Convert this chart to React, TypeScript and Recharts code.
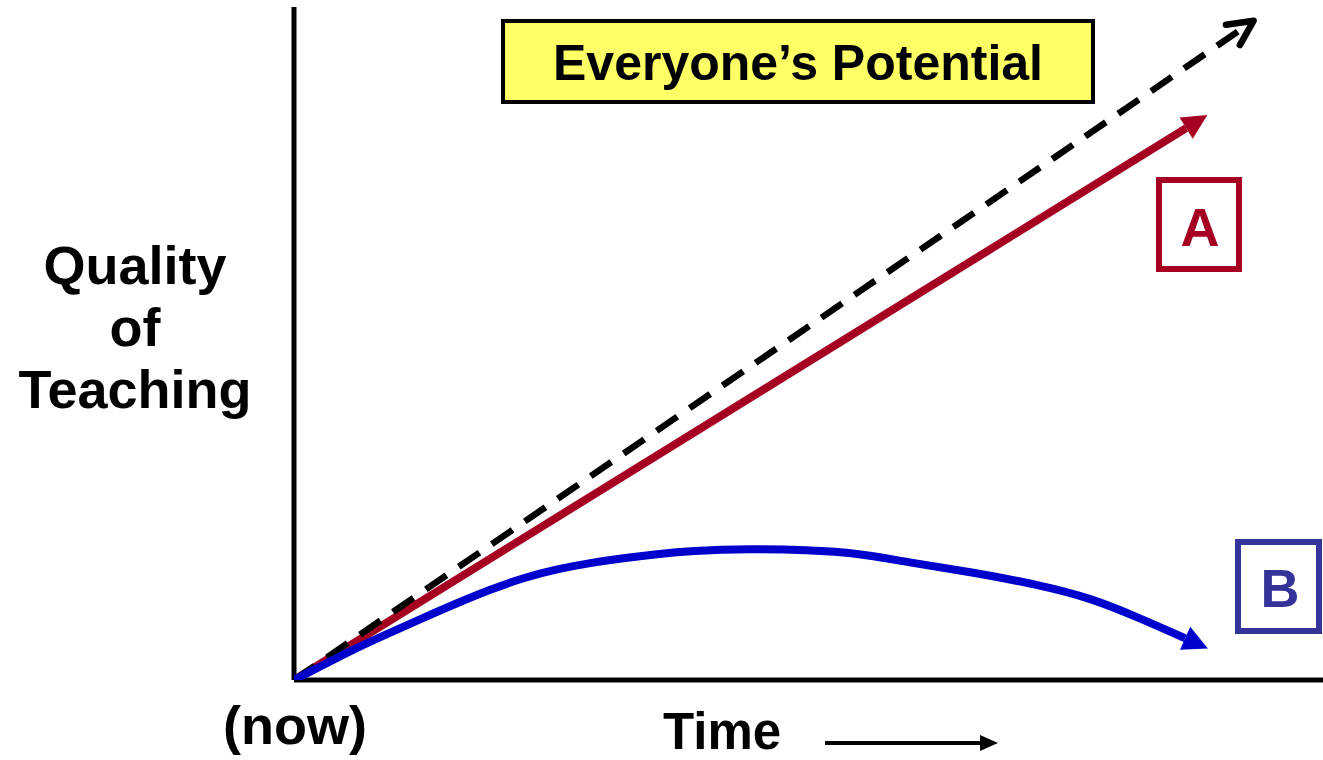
import * as React from "react";
import { LineChart, Line, XAxis, YAxis, ReferenceLine } from "recharts";

// x: time (0..100), y: quality of teaching (0..100)
const potentialX = [0, 93.1];
const potentialY = [0, 97.8];

const pathAX = [0, 86.7];
const pathAY = [0, 82.0];

const pathBX = [0, 2.8, 6.1, 9.3, 12.5, 15.8, 19.0, 22.3, 25.6, 28.8, 32.0, 35.3, 38.5, 44.3, 49.9, 54.7, 59.6, 66.0, 72.5, 77.4, 82.2, 86.6];
const pathBY = [0, 2.2, 4.8, 7.0, 9.2, 11.4, 13.4, 15.2, 16.5, 17.4, 18.1, 18.7, 19.2, 19.5, 19.3, 18.9, 17.5, 16.0, 14.1, 12.2, 9.2, 6.2];

const TITLE = "Everyone’s Potential";
const Y_LABEL = ["Quality", "of", "Teaching"];
const X_LABEL = "Time";
const ORIGIN_LABEL = "(now)";

const RED = "#A50021";
const BLUE = "#0000CC";
const B_BOX = "#333399";
const FONT = "'Liberation Sans', Arial, sans-serif";

const W = 1323;
const H = 760;

const toRows = (xs: number[], ys: number[]) => xs.map((x, i) => ({ x, y: ys[i] }));

const potentialData = toRows(potentialX, potentialY);
const aData = toRows(pathAX, pathAY);
const bData = toRows(pathBX, pathBY);

/** arrow head on the last point of a series, pointing along the last segment */
function arrowDot(color: string, kind: "open" | "solid", lastIndex: number) {
  return (props: any) => {
    const { cx, cy, index, points } = props;
    if (index !== lastIndex || !points || !points[index - 1]) {
      return <g key={`d-${index}`} />;
    }
    const prev = points[index - 1];
    const dx = cx - prev.x;
    const dy = cy - prev.y;
    const len = Math.hypot(dx, dy) || 1;
    const ux = dx / len;
    const uy = dy / len;

    if (kind === "open") {
      const tx = cx + 2 * ux;
      const ty = cy + 2 * uy;
      const rot = (a: number) => {
        const r = (a * Math.PI) / 180;
        const bx = -ux, by = -uy;
        return [bx * Math.cos(r) - by * Math.sin(r), bx * Math.sin(r) + by * Math.cos(r)];
      };
      const [ax, ay] = rot(26);
      const [cx2, cy2] = rot(-26);
      const L = 28;
      return (
        <path
          key={`d-${index}`}
          d={`M${tx + L * ax},${ty + L * ay} L${tx},${ty} L${tx + L * cx2},${ty + L * cy2}`}
          fill="none"
          stroke={color}
          strokeWidth={6.5}
          strokeLinecap="round"
          strokeLinejoin="round"
        />
      );
    }

    const L = 25;
    const hw = 12.5;
    const nx = -uy;
    const ny = ux;
    const tip = [cx + L * ux, cy + L * uy];
    return (
      <path
        key={`d-${index}`}
        d={`M${cx + hw * nx},${cy + hw * ny} L${tip[0]},${tip[1]} L${cx - hw * nx},${cy - hw * ny} Z`}
        fill={color}
        stroke="none"
      />
    );
  };
}

export default function App() {
  return (
    <div style={{ position: "absolute", left: 0, top: 0, width: W, height: H, background: "#fff" }}>
      <LineChart width={W} height={H} margin={{ top: 7, right: 0, bottom: 80, left: 294 }}>
        <XAxis type="number" dataKey="x" domain={[0, 100]} allowDataOverflow hide height={0} />
        <YAxis type="number" dataKey="y" domain={[0, 100]} allowDataOverflow hide width={0} />
        <ReferenceLine x={0} stroke="#000" strokeWidth={5} />
        <ReferenceLine y={0} stroke="#000" strokeWidth={5} />
        <Line
          data={aData}
          dataKey="y"
          type="linear"
          stroke={RED}
          strokeWidth={8}
          dot={arrowDot(RED, "solid", aData.length - 1)}
          activeDot={false}
          isAnimationActive={false}
        />
        <Line
          data={potentialData}
          dataKey="y"
          type="linear"
          stroke="#000"
          strokeWidth={6.5}
          strokeDasharray="25 15"
          dot={arrowDot("#000", "open", potentialData.length - 1)}
          activeDot={false}
          isAnimationActive={false}
        />
        <Line
          data={bData}
          dataKey="y"
          type="basis"
          stroke={BLUE}
          strokeWidth={8}
          dot={arrowDot(BLUE, "solid", bData.length - 1)}
          activeDot={false}
          isAnimationActive={false}
        />
      </LineChart>

      {/* annotations */}
      <svg
        width={W}
        height={H}
        style={{ position: "absolute", left: 0, top: 0, pointerEvents: "none" }}
        fontFamily={FONT}
        fontWeight={700}
      >
        <rect x={503} y={21} width={590} height={81} fill="#FFFF66" stroke="#000" strokeWidth={4} />
        <text x={798} y={80} textAnchor="middle" fontSize={50} fill="#000">
          {TITLE}
        </text>

        <rect x={1159} y={180} width={80} height={89} fill="none" stroke={RED} strokeWidth={6} />
        <text x={1200} y={246} textAnchor="middle" fontSize={54} fill={RED}>
          A
        </text>

        <rect x={1238} y={542} width={81} height={89} fill="none" stroke={B_BOX} strokeWidth={6} />
        <text x={1280} y={607} textAnchor="middle" fontSize={54} fill={B_BOX}>
          B
        </text>

        {Y_LABEL.map((s, i) => (
          <text key={s} x={135} y={284 + i * 62} textAnchor="middle" fontSize={54} fill="#000">
            {s}
          </text>
        ))}

        <text x={295} y={744} textAnchor="middle" fontSize={54} fill="#000">
          {ORIGIN_LABEL}
        </text>

        <text x={663} y={749} textAnchor="start" fontSize={51} fill="#000">
          {X_LABEL}
        </text>
        <line x1={825} y1={743} x2={982} y2={743} stroke="#000" strokeWidth={4} />
        <path d="M980,735 L998,743 L980,751 Z" fill="#000" />
      </svg>
    </div>
  );
}
